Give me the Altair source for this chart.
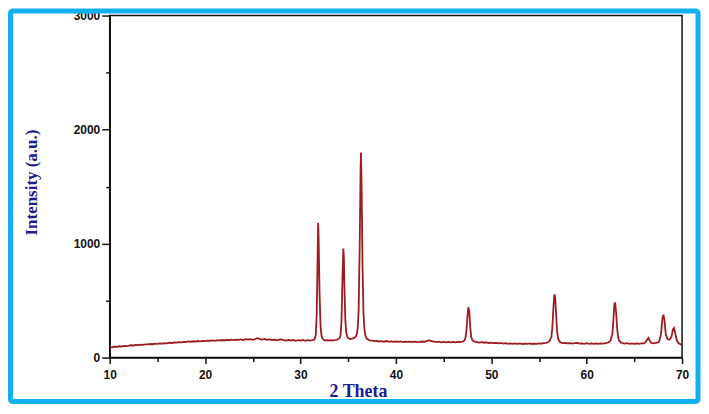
import altair as alt
import pandas as pd

# (2 theta, intensity) pairs, region by region
base_low = [
    (10.0, 92), (10.25, 90), (10.5, 96), (10.75, 94), (11.0, 99), (11.25, 97), (11.5, 103), (11.75, 101),
    (12.0, 104), (12.25, 108), (12.5, 106), (12.75, 111), (13.0, 109), (13.25, 113), (13.5, 112), (13.75, 116),
    (14.0, 115), (14.25, 119), (14.5, 117), (14.75, 121), (15.0, 120), (15.25, 124), (15.5, 122), (15.75, 127),
    (16.0, 125), (16.25, 130), (16.5, 128), (16.75, 132), (17.0, 131), (17.25, 135), (17.5, 133), (17.75, 138),
    (18.0, 136), (18.25, 142), (18.5, 139), (18.75, 143), (19.0, 140), (19.25, 145), (19.5, 142), (19.75, 147),
    (20.0, 144), (20.25, 149), (20.5, 146), (20.75, 150), (21.0, 147), (21.25, 152), (21.5, 149), (21.75, 154),
    (22.0, 150), (22.25, 155), (22.5, 152), (22.75, 157), (23.0, 153), (23.25, 158), (23.5, 155), (23.75, 160),
    (24.0, 154), (24.25, 161), (24.5, 157), (24.75, 162), (25.0, 156), (25.25, 163), (25.5, 170), (25.75, 162),
    (26.0, 158), (26.25, 163), (26.5, 156), (26.75, 160), (27.0, 153), (27.25, 158), (27.5, 151), (27.75, 157),
    (28.0, 159), (28.25, 152), (28.5, 149), (28.75, 155), (29.0, 150), (29.25, 154), (29.5, 147), (29.75, 152),
    (30.0, 149), (30.25, 154), (30.5, 147), (30.75, 152), (31.0, 149), (31.25, 153),
]

peaks_zno_main = [
    (31.4, 155), (31.5, 165), (31.6, 200), (31.7, 380), (31.8, 900), (31.85, 1181), (31.9, 1050), (32.0, 560),
    (32.1, 280), (32.2, 195), (32.3, 168), (32.4, 158), (32.6, 150), (32.8, 153), (33.0, 148), (33.2, 152),
    (33.4, 149), (33.6, 154), (33.8, 156), (33.95, 162),
    (34.1, 172), (34.2, 195), (34.3, 320), (34.4, 700), (34.49, 956), (34.55, 880), (34.6, 640), (34.7, 330),
    (34.8, 215), (34.9, 185), (35.0, 172), (35.2, 163), (35.4, 167), (35.6, 170),
    (35.8, 185), (35.9, 205), (36.0, 260), (36.1, 420), (36.2, 950), (36.3, 1650), (36.34, 1799), (36.4, 1550),
    (36.5, 820), (36.6, 400), (36.7, 250), (36.8, 195), (36.9, 172),
]

base_mid = [
    (37.0, 162), (37.25, 151), (37.5, 148), (37.75, 144), (38.0, 146), (38.25, 141), (38.5, 144), (38.75, 139),
    (39.0, 145), (39.25, 140), (39.5, 142), (39.75, 137), (40.0, 141), (40.25, 138), (40.5, 142), (40.75, 136),
    (41.0, 140), (41.25, 137), (41.5, 139), (41.75, 135), (42.0, 140), (42.25, 136), (42.5, 138), (42.75, 141),
    (43.0, 139), (43.25, 146), (43.5, 151), (43.75, 145), (44.0, 139), (44.25, 136), (44.5, 140), (44.75, 134),
    (45.0, 138), (45.25, 133), (45.5, 137), (45.75, 133), (46.0, 138), (46.25, 134), (46.5, 137), (46.75, 135),
    (47.0, 141),
]

peak_102 = [
    (47.2, 150), (47.3, 175), (47.4, 240), (47.5, 360), (47.6, 443), (47.7, 400), (47.8, 260), (47.9, 180),
    (48.0, 155),
]

base_high = [
    (48.25, 140), (48.5, 136), (48.75, 132), (49.0, 135), (49.25, 130), (49.5, 133), (49.75, 128), (50.0, 131),
    (50.25, 126), (50.5, 129), (50.75, 124), (51.0, 128), (51.25, 123), (51.5, 126), (51.75, 121), (52.0, 125),
    (52.25, 120), (52.5, 124), (52.75, 120), (53.0, 125), (53.25, 119), (53.5, 123), (53.75, 120), (54.0, 124),
    (54.25, 119), (54.5, 123), (54.75, 121), (55.0, 125), (55.25, 122), (55.5, 127), (55.75, 129),
]

peak_110 = [
    (55.9, 132), (56.1, 145), (56.3, 180), (56.4, 260), (56.5, 420), (56.6, 540), (56.65, 554), (56.7, 520),
    (56.8, 380), (56.9, 230), (57.0, 170), (57.1, 148),
]

base_60 = [
    (57.25, 133), (57.5, 127), (57.75, 129), (58.0, 124), (58.25, 127), (58.5, 122), (58.75, 126), (59.0, 128),
    (59.25, 122), (59.5, 125), (59.75, 121), (60.0, 126), (60.25, 121), (60.5, 124), (60.75, 120), (61.0, 125),
    (61.25, 121), (61.5, 124), (61.75, 122), (62.0, 127), (62.25, 132),
]

peak_103 = [
    (62.4, 140), (62.5, 150), (62.7, 210), (62.8, 330), (62.9, 460), (62.96, 484), (63.0, 470), (63.1, 380),
    (63.2, 250), (63.3, 180), (63.4, 150), (63.6, 132),
]

base_65 = [
    (63.75, 127), (64.0, 123), (64.25, 126), (64.5, 121), (64.75, 124), (65.0, 120), (65.25, 124), (65.5, 121),
    (65.75, 125), (66.0, 124),
]

peaks_tail = [
    (66.2, 135), (66.35, 160), (66.48, 172), (66.6, 150), (66.75, 130), (67.0, 124), (67.25, 128), (67.5, 133),
    (67.6, 140), (67.8, 210), (67.95, 350), (68.05, 376), (68.15, 330), (68.3, 200), (68.5, 160), (68.7, 158),
    (68.9, 185), (69.05, 250), (69.16, 260), (69.3, 210), (69.45, 150), (69.6, 128), (69.8, 118), (70.0, 112),
]

segments = [base_low, peaks_zno_main, base_mid, peak_102, base_high, peak_110, base_60, peak_103, base_65, peaks_tail]
rows = [p for seg in segments for p in seg]
df = pd.DataFrame(rows, columns=["two_theta", "intensity"])

x_ticks = [10, 15, 20, 25, 30, 35, 40, 45, 50, 55, 60, 65, 70]
y_ticks = [0, 500, 1000, 1500, 2000, 2500, 3000]

LINE = "#9e1b1f"
NAVY = "#1c1c8f"
BLUE = "#12b0ee"

line = alt.Chart(df).mark_line(color=LINE, strokeWidth=1.8, clip=True).encode(
    x=alt.X(
        "two_theta:Q",
        scale=alt.Scale(domain=[10, 70], nice=False, zero=False),
        axis=alt.Axis(
            values=x_ticks,
            labelExpr="datum.value % 10 === 0 ? datum.label : ''",
            tickSize={"condition": {"test": "datum.value % 10 === 0", "value": 6}, "value": 4},
            labelFlush=False,
            title="2 Theta",
            titleX=249,
            titleY=34,
            titleBaseline="middle",
            titleAlign="center",
            titleFont="Liberation Serif",
            titleFontSize=18,
            titleFontWeight="bold",
            titleColor=NAVY,
            labelPadding=6,
        ),
    ),
    y=alt.Y(
        "intensity:Q",
        scale=alt.Scale(domain=[0, 3000], nice=False),
        axis=alt.Axis(
            values=y_ticks,
            format="d",
            labelExpr="datum.value % 1000 === 0 ? datum.label : ''",
            tickSize={"condition": {"test": "datum.value % 1000 === 0", "value": 8}, "value": 4},
            labelFlush=False,
            title="Intensity (a.u.)",
            titleX=-78,
            titleY=167,
            titleAngle=270,
            titleBaseline="middle",
            titleAlign="center",
            titleFont="Liberation Serif",
            titleFontSize=17,
            titleFontWeight="bold",
            titleColor=NAVY,
            labelPadding=2,
            labelBaseline="middle",
        ),
    ),
)

frame = alt.Chart(pd.DataFrame({"k": [0]})).mark_rect(
    fill="white", fillOpacity=0, stroke=BLUE, strokeWidth=5, cornerRadius=2
).encode(
    x=alt.value(-99.5),
    x2=alt.value(590),
    y=alt.value(-4.5),
    y2=alt.value(387),
)

chart = (
    alt.layer(frame, line)
    .properties(
        width=574,
        height=343,
        autosize=alt.AutoSizeParams(type="none"),
        padding={"left": 102, "top": 7, "right": 19, "bottom": 48},
        background="white",
    )
    .configure_view(stroke="#111111", strokeWidth=1.5)
    .configure_axis(
        domainColor="#111111",
        domainWidth=1.5,
        tickColor="#111111",
        tickWidth=1.5,
        grid=False,
        labelFont="Liberation Sans",
        labelFontSize=12,
        labelFontWeight="bold",
        labelColor="#111111",
    )
)

chart.save("out.html", embed_options={"renderer": "svg", "actions": False})
